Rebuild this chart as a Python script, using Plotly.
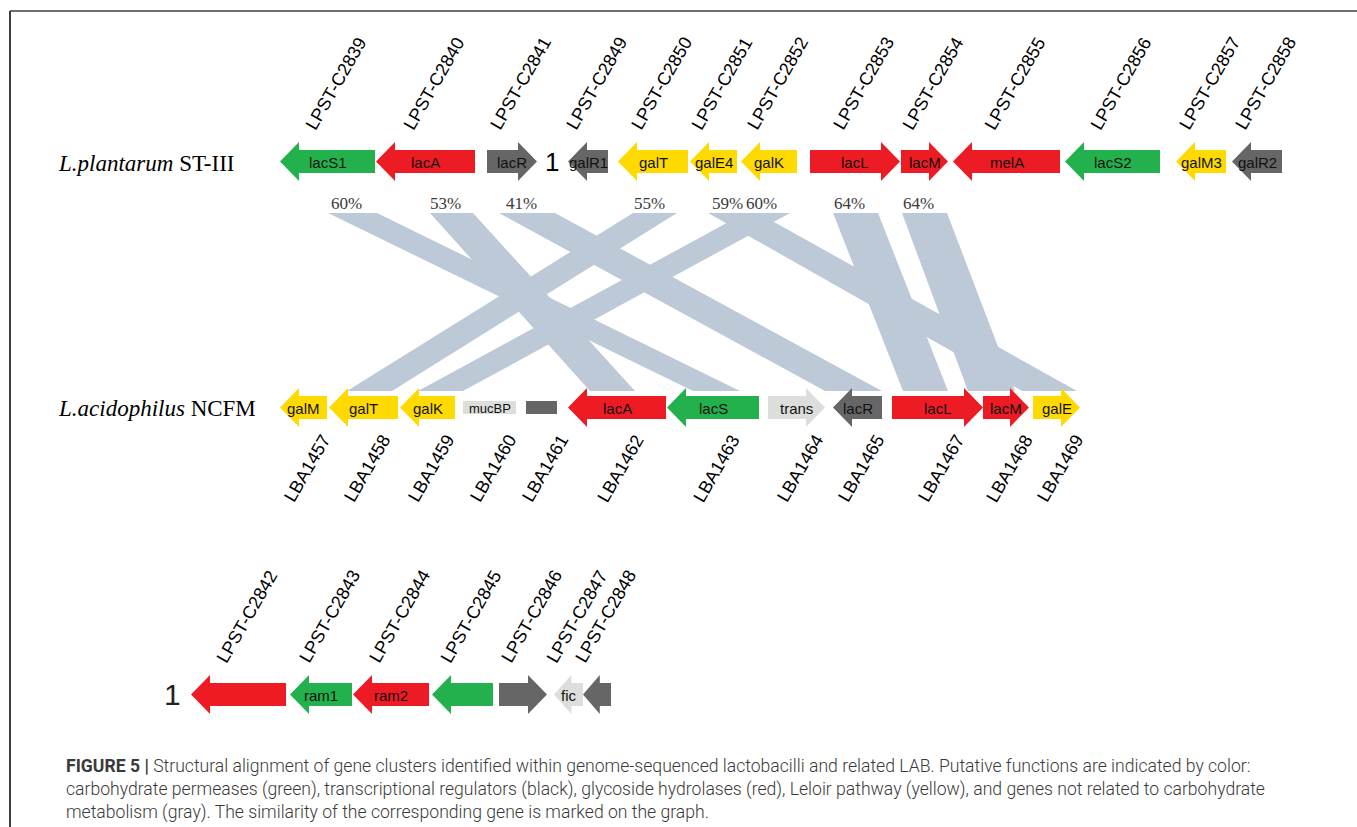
import plotly.graph_objects as go

W, H = 1357, 827

# ---------------------------------------------------------------- data
# functional classes
CLASS_COLOR = {
    "permease": "#22B14C",
    "hydrolase": "#ED1C24",
    "regulator": "#666666",
    "leloir": "#FFDA00",
    "other": "#DCDEDC",
}

# L. plantarum ST-III lac/gal cluster (genome coordinates in figure units)
plan_names = ["lacS1", "lacA", "lacR", "galR1", "galT", "galE4", "galK",
              "lacL", "lacM", "melA", "lacS2", "galM3", "galR2"]
plan_tags = ["LPST-C2839", "LPST-C2840", "LPST-C2841", "LPST-C2849", "LPST-C2850",
             "LPST-C2851", "LPST-C2852", "LPST-C2853", "LPST-C2854", "LPST-C2855",
             "LPST-C2856", "LPST-C2857", "LPST-C2858"]
plan_start = [280, 376, 487, 568, 618, 690, 741, 810, 901, 953, 1065, 1176, 1232]
plan_end = [375, 475, 537, 608, 688, 737, 797, 900, 948, 1060, 1160, 1226, 1282]
plan_strand = [-1, -1, 1, -1, -1, -1, -1, 1, 1, -1, -1, -1, -1]
plan_class = ["permease", "hydrolase", "regulator", "regulator", "leloir", "leloir",
              "leloir", "hydrolase", "hydrolase", "hydrolase", "permease", "leloir",
              "regulator"]

# L. acidophilus NCFM cluster
acid_names = ["galM", "galT", "galK", "mucBP", "", "lacA", "lacS", "trans",
              "lacR", "lacL", "lacM", "galE"]
acid_tags = ["LBA1457", "LBA1458", "LBA1459", "LBA1460", "LBA1461", "LBA1462",
             "LBA1463", "LBA1464", "LBA1465", "LBA1467", "LBA1468", "LBA1469"]
acid_start = [280, 329, 400, 463, 526, 568, 667, 768, 833, 892, 983, 1033]
acid_end = [327, 398, 455, 516, 557, 666, 759, 825, 882, 983, 1029, 1080]
acid_strand = [-1, -1, -1, 0, 0, -1, -1, 1, -1, 1, 1, 1]
acid_class = ["leloir", "leloir", "leloir", "other", "regulator", "hydrolase",
              "permease", "other", "regulator", "hydrolase", "hydrolase", "leloir"]

# second L. plantarum ST-III segment (rhamnose region)
ram_names = ["", "ram1", "ram2", "", "", "fic", ""]
ram_tags = ["LPST-C2842", "LPST-C2843", "LPST-C2844", "LPST-C2845", "LPST-C2846",
            "LPST-C2847", "LPST-C2848"]
ram_start = [191, 290, 353, 432, 499, 554, 583]
ram_end = [286, 352, 429, 493, 547, 583, 611]
ram_strand = [-1, -1, -1, -1, 1, -1, -1]
ram_class = ["hydrolase", "permease", "hydrolase", "permease", "regulator", "other",
             "regulator"]

# homologous pairs: aligned span on each genome and similarity
link_sim = ["60%", "53%", "41%", "55%", "59%", "60%", "64%", "64%"]
link_top_x0 = [328, 430, 499, 633, 708, 745, 833, 902]
link_top_x1 = [377, 473, 555, 677, 758, 790, 878, 947]
link_bot_x0 = [693, 590, 825, 347, 1022, 418, 903, 968]
link_bot_x1 = [740, 635, 882, 392, 1077, 463, 948, 1015]

caption_lines = [
    "<b>FIGURE 5 |</b> Structural alignment of gene clusters identified within genome-sequenced "
    "lactobacilli and related LAB. Putative functions are indicated by color:",
    "carbohydrate permeases (green), transcriptional regulators (black), glycoside hydrolases "
    "(red), Leloir pathway (yellow), and genes not related to carbohydrate",
    "metabolism (gray). The similarity of the corresponding gene is marked on the graph.",
]

# ---------------------------------------------------------------- layout constants
Y_PLAN, Y_ACID, Y_RAM = 161.5, 407.5, 694.5
BODY_HALF, HEAD_HALF, HEAD_LEN = 11.5, 19.5, 19
LINK_TOP, LINK_BOT = 213, 391
LINK_COLOR = "#BDC9D7"
SANS = "Arial, Liberation Sans, sans-serif"
SERIF = "Times New Roman, Liberation Serif, serif"

fig = go.Figure()
annotations = []


def gene_outline(x0, x1, strand, yc):
    if strand == 0:
        h = 6.5
        return [x0, x1, x1, x0, x0], [yc - h, yc - h, yc + h, yc + h, yc - h]
    hl = min(HEAD_LEN, 0.6 * (x1 - x0))
    b, hh = BODY_HALF, HEAD_HALF
    if strand > 0:
        xs = [x0, x1 - hl, x1 - hl, x1, x1 - hl, x1 - hl, x0, x0]
    else:
        xs = [x1, x0 + hl, x0 + hl, x0, x0 + hl, x0 + hl, x1, x1]
    ys = [yc - b, yc - b, yc - hh, yc, yc + hh, yc + b, yc + b, yc - b]
    return xs, ys


# similarity ribbons (drawn first, underneath the genes)
for x0t, x1t, x0b, x1b, sim in zip(link_top_x0, link_top_x1, link_bot_x0,
                                   link_bot_x1, link_sim):
    fig.add_trace(go.Scatter(
        x=[x0t, x1t, x1b, x0b, x0t],
        y=[LINK_TOP, LINK_TOP, LINK_BOT, LINK_BOT, LINK_TOP],
        mode="lines", fill="toself", fillcolor=LINK_COLOR,
        line=dict(width=0, color=LINK_COLOR), hoverinfo="skip", showlegend=False))
    annotations.append(dict(
        x=(x0t + x1t) / 2 - 6, y=203, text=sim, showarrow=False,
        font=dict(family=SERIF, size=17, color="#3a3a3a"),
        xanchor="center", yanchor="middle"))


def draw_track(names, tags, starts, ends, strands, classes, yc, tag_side):
    for name, tag, x0, x1, s, c in zip(names, tags, starts, ends, strands, classes):
        xs, ys = gene_outline(x0, x1, s, yc)
        col = CLASS_COLOR[c]
        fig.add_trace(go.Scatter(
            x=xs, y=ys, mode="lines", fill="toself", fillcolor=col,
            line=dict(width=0, color=col), hoverinfo="skip", showlegend=False))
        xc = (x0 + x1) / 2
        if name:
            small = s == 0
            annotations.append(dict(
                x=xc, y=yc + (0.5 if small else 1), text=name, showarrow=False,
                font=dict(family=SANS, size=13 if small else 15, color="#111111"),
                xanchor="center", yanchor="middle"))
        if tag_side == "above":
            annotations.append(dict(
                x=xc + 8, y=yc - 78, text=tag, showarrow=False, textangle=-60,
                font=dict(family=SANS, size=18, color="#000000"),
                xanchor="center", yanchor="middle"))
        else:
            annotations.append(dict(
                x=xc + 3, y=yc + 61, text=tag, showarrow=False, textangle=-60,
                font=dict(family=SANS, size=18, color="#000000"),
                xanchor="center", yanchor="middle"))


draw_track(plan_names, plan_tags, plan_start, plan_end, plan_strand, plan_class,
           Y_PLAN, "above")
draw_track(acid_names, acid_tags, acid_start, acid_end, acid_strand, acid_class,
           Y_ACID, "below")
draw_track(ram_names, ram_tags, ram_start, ram_end, ram_strand, ram_class,
           Y_RAM, "above")

# contig-boundary markers
annotations.append(dict(x=552, y=Y_PLAN, text="1", showarrow=False,
                        font=dict(family=SANS, size=26, color="#000000"),
                        xanchor="center", yanchor="middle"))
annotations.append(dict(x=172, y=Y_RAM, text="1", showarrow=False,
                        font=dict(family=SANS, size=30, color="#222222"),
                        xanchor="center", yanchor="middle"))

# strain names
annotations.append(dict(x=56, y=Y_PLAN + 2, text="<i>L.plantarum</i> ST-III",
                        showarrow=False, font=dict(family=SERIF, size=23, color="#000000"),
                        xanchor="left", yanchor="middle"))
annotations.append(dict(x=56, y=Y_ACID + 1, text="<i>L.acidophilus</i> NCFM",
                        showarrow=False, font=dict(family=SERIF, size=23, color="#000000"),
                        xanchor="left", yanchor="middle"))

# caption
annotations.append(dict(x=64, y=754, text="<br>".join(caption_lines), showarrow=False,
                        align="left", xanchor="left", yanchor="top",
                        font=dict(family="Roboto, Arial, sans-serif", size=17.6,
                                  color="#3a3a3a", weight=300)))

# figure frame (top and left rules)
shapes = [
    dict(type="line", xref="x", yref="y", x0=10, x1=W, y0=11, y1=11,
         line=dict(color="#6e6e6e", width=2)),
    dict(type="line", xref="x", yref="y", x0=10, x1=10, y0=11, y1=H,
         line=dict(color="#3e3e3e", width=2)),
]

fig.update_layout(
    width=W, height=H, margin=dict(l=0, r=0, t=0, b=0),
    paper_bgcolor="white", plot_bgcolor="white",
    xaxis=dict(range=[0, W], visible=False, fixedrange=True),
    yaxis=dict(range=[H, 0], visible=False, fixedrange=True),
    annotations=annotations, shapes=shapes, showlegend=False,
)

fig.write_html("out.html")
